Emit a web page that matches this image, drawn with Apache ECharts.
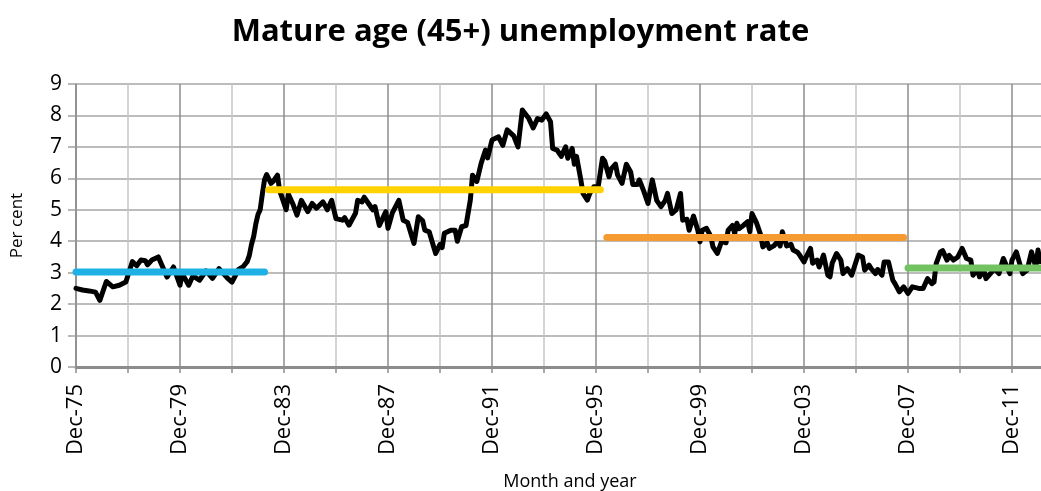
<!DOCTYPE html>
<html>
<head>
<meta charset="utf-8">
<script src="https://cdn.jsdelivr.net/npm/echarts@6/dist/echarts.min.js"></script>
<style>
  html, body { margin: 0; padding: 0; background: #fff; }
  #main { width: 1041px; height: 491px; }
</style>
</head>
<body>
<div id="main"></div>
<script>
// x values are months counted from Dec-75 (0 = Dec-75, 12 = Dec-76, ...)
var months = [
  0, 3, 6, 9, 11, 14, 17, 20, 23, 26,
  28, 30, 32, 33, 35, 38, 40, 42, 45, 48, 49, 52, 54, 57, 60, 63, 66, 70, 72, 75, 77, 79,
  80, 81, 82, 83, 84, 85, 86, 87, 88,
  90, 91, 93, 94, 95, 97, 98, 100, 102, 104, 107, 109, 111, 114, 116, 118, 120, 123, 124, 126,
  129, 130, 132, 133, 135, 137, 138, 140, 143, 144, 146, 149, 151,
  153, 156, 158, 160, 161, 163, 166, 168, 169, 170, 173, 175, 176, 178, 180, 182, 183, 185, 187,
  189, 190, 192, 195, 197, 199, 202, 204, 206, 209, 211, 213, 215, 217, 219, 220,
  222, 224, 226, 227, 229, 230, 231, 233, 234, 236, 237, 239, 241, 243, 244, 246, 247, 249, 250,
  252, 254, 256, 257, 259, 260, 262, 264, 265, 266, 268, 270, 272, 273, 275, 277, 279, 280, 282,
  283, 285, 287, 288, 289, 291, 293, 294, 296, 298, 300, 301, 303,
  304, 305, 306, 308, 310, 311, 312, 314, 316, 317, 319, 320, 322, 324, 325, 326, 328, 330, 331,
  333, 334, 336, 337, 339, 340, 342, 343, 345, 347, 348, 349, 351, 353, 354, 356, 358, 359, 361,
  363, 364, 366, 367, 369, 370, 372, 373, 375, 377, 378, 380,
  382, 384, 386, 389, 391, 393, 395, 396, 397, 399, 400, 402, 403, 405, 407, 409, 411, 413, 414,
  416, 417, 419, 420, 422, 424, 426, 428, 430, 431, 432, 434, 436, 437, 439, 441, 443, 444, 445
];

var rate = [
  2.50, 2.45, 2.42, 2.38, 2.12, 2.72, 2.55, 2.60, 2.70, 3.35,
  3.22, 3.40, 3.38, 3.25, 3.40, 3.50, 3.18, 2.86, 3.18, 2.60, 2.97, 2.60, 2.90, 2.76, 3.06, 2.82, 3.13, 2.82, 2.70, 3.10, 3.18, 3.35,
  3.55, 3.90, 4.15, 4.55, 4.85, 5.00, 5.50, 5.95, 6.12,
  5.84, 5.90, 6.10, 5.60, 5.41, 5.00, 5.50, 5.20, 4.83, 5.30, 4.94, 5.20, 5.05, 5.25, 5.00, 5.30, 4.72, 4.67, 4.75, 4.51,
  4.89, 5.30, 5.25, 5.40, 5.20, 5.00, 5.10, 4.50, 4.94, 4.41, 4.90, 5.30, 4.67,
  4.60, 3.93, 4.78, 4.65, 4.35, 4.30, 3.61, 3.90, 3.80, 4.25, 4.35, 4.35, 4.00, 4.46, 4.50, 5.31, 6.10, 5.90, 6.48,
  6.90, 6.65, 7.22, 7.32, 7.05, 7.54, 7.35, 7.00, 8.17, 7.90, 7.60, 7.90, 7.85, 8.05, 7.80, 6.95,
  6.90, 6.70, 7.00, 6.64, 6.95, 6.45, 6.70, 5.95, 5.52, 5.31, 5.50, 5.73, 5.73, 6.64, 6.55, 6.05, 6.30, 6.45, 6.10,
  5.84, 6.45, 6.20, 5.80, 5.80, 5.95, 5.60, 5.20, 5.60, 5.95, 5.30, 5.10, 5.30, 5.52, 4.88, 5.00, 5.52, 4.67, 4.70,
  4.35, 4.80, 4.35, 3.98, 4.35, 4.41, 4.15, 3.82, 3.61, 4.00, 3.95, 4.35, 4.50,
  4.25, 4.57, 4.40, 4.50, 4.62, 4.30, 4.88, 4.60, 4.20, 3.82, 3.95, 3.77, 3.85, 4.00, 3.85, 4.30, 3.85, 3.90, 3.72,
  3.65, 3.56, 3.34, 3.50, 3.77, 3.30, 3.40, 3.18, 3.56, 2.92, 2.87, 3.30, 3.61, 3.40, 2.97, 3.13, 2.92, 3.13, 3.56,
  3.50, 3.08, 3.24, 3.13, 2.97, 3.10, 2.92, 3.34, 3.34, 2.76, 2.65, 2.39,
  2.55, 2.34, 2.55, 2.50, 2.50, 2.81, 2.65, 2.70, 3.29, 3.66, 3.70, 3.40, 3.55, 3.40, 3.50, 3.77, 3.45, 3.40, 2.92,
  3.10, 2.87, 3.08, 2.81, 2.97, 3.13, 2.97, 3.45, 3.13, 2.97, 3.40, 3.66, 3.18, 2.97, 3.08, 3.66, 3.18, 3.72, 3.35
];

// average rate over each period (start month, end month, level)
var avgStart = [0, 89, 245, 384];
var avgEnd = [87, 242, 382, 445];
var avgLevel = [3.02, 5.64, 4.12, 3.15];
var avgColors = ['#1fb1e6', '#ffd200', '#f59b32', '#72c262'];

var chart = echarts.init(document.getElementById('main'), null, { renderer: 'canvas' });

var seriesList = [];
for (var i = 0; i < avgStart.length; i++) {
  seriesList.push({
    type: 'line',
    data: [[avgStart[i], avgLevel[i]], [avgEnd[i], avgLevel[i]]],
    symbol: 'none',
    silent: true,
    z: 3,
    lineStyle: { color: avgColors[i], width: 7, cap: 'round' }
  });
}

var points = [];
for (var j = 0; j < months.length; j++) {
  points.push([months[j], rate[j]]);
}
seriesList.push({
  name: 'Unemployment rate',
  type: 'line',
  data: points,
  symbol: 'none',
  z: 2,
  lineStyle: { color: '#000', width: 5, join: 'round', cap: 'round' }
});

var option = {
  backgroundColor: '#ffffff',
  animation: false,
  textStyle: { fontFamily: 'Open Sans' },
  title: {
    text: 'Mature age (45+) unemployment rate',
    left: 'center',
    top: 12,
    textStyle: { fontSize: 31, fontWeight: 'bold', color: '#000', fontFamily: 'Open Sans' }
  },
  // the plot runs past the right edge of the picture, as in the original
  grid: {
    left: 76,
    top: 84,
    width: 988,
    height: 283,
    outerBoundsMode: 'none'
  },
  xAxis: {
    type: 'value',
    min: 0,
    max: 456,
    interval: 24,
    name: 'Month and year',
    nameLocation: 'middle',
    nameGap: 106,
    nameTextStyle: { fontSize: 18, color: '#000' },
    axisLine: { show: true, lineStyle: { color: '#8c8c8c', width: 3 } },
    axisTick: { show: true, length: 6, lineStyle: { color: '#8c8c8c', width: 1.5 } },
    axisLabel: {
      rotate: 90,
      margin: 17,
      fontSize: 22,
      color: '#000',
      formatter: function (v) {
        if (v % 48 !== 0) return '';
        var yy = String(1975 + v / 12).slice(2);
        return 'Dec-' + yy;
      }
    },
    splitLine: {
      show: true,
      lineStyle: { color: ['#8c8c8c', '#c4c4c4'], width: 1.5 }
    }
  },
  yAxis: {
    type: 'value',
    min: 0,
    max: 9,
    interval: 1,
    name: 'Per cent',
    nameLocation: 'middle',
    nameRotate: 90,
    nameGap: 50,
    nameTextStyle: { fontSize: 17, color: '#000' },
    axisLine: { show: true, lineStyle: { color: '#8c8c8c', width: 1.5 } },
    axisTick: { show: true, length: 8, lineStyle: { color: '#a0a0a0', width: 1.5 } },
    axisLabel: { fontSize: 21, color: '#000', margin: 14 },
    splitLine: { show: true, lineStyle: { color: '#a6a6a6', width: 1.5 } }
  },
  series: seriesList
};

chart.setOption(option);
</script>
</body>
</html>
